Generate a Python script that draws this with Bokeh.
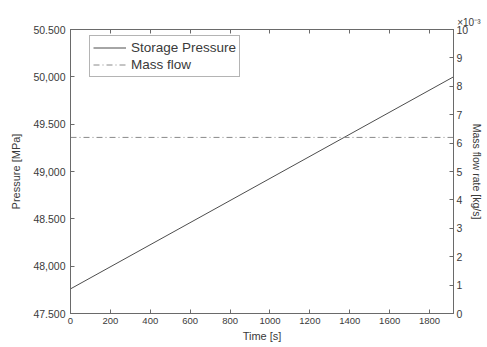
from bokeh.plotting import figure
from bokeh.models import (LinearAxis, Range1d, FixedTicker, Legend, LegendItem,
                          CustomJSTickFormatter, Title)
from bokeh.embed import file_html
from bokeh.resources import INLINE

# ---- data ----
time_s = [0, 1920]
pressure_mpa = [47.76, 50.0]
mass_flow = [0.0062, 0.0062]

x_ticks = [0, 200, 400, 600, 800, 1000, 1200, 1400, 1600, 1800]
y_ticks = [47.5, 48.0, 48.5, 49.0, 49.5, 50.0, 50.5]
y_tick_labels = ["47.500", "48,000", "48.500", "49,000", "49.500", "50,000", "50.500"]
flow_ticks = [0.000, 0.001, 0.002, 0.003, 0.004, 0.005, 0.006, 0.007, 0.008, 0.009, 0.010]

x_min, x_max = 0, 1920
p_min, p_max = 47.5, 50.5
f_min, f_max = 0.0, 0.010

FONT = "Liberation Sans"
AX = "#6a6a6a"
TXT = "#3a3a3a"

p = figure(width=487, height=347, output_backend="svg", toolbar_location=None,
           x_range=Range1d(x_min, x_max), y_range=Range1d(p_min, p_max),
           min_border_left=70, min_border_right=34, min_border_top=29, min_border_bottom=34,
           x_axis_label="Time [s]", y_axis_label="Pressure [MPa]")
p.extra_y_ranges = {"flow": Range1d(f_min, f_max)}
p.xgrid.visible = False
p.ygrid.visible = False
p.outline_line_color = AX
p.background_fill_color = "white"
p.border_fill_color = "white"

r1 = p.line(time_s, pressure_mpa, line_color="#4d4d4d", line_width=1)
r2 = p.line(time_s, mass_flow, y_range_name="flow", line_color="#8a8a8a",
            line_width=1, line_dash="6 3 1 3")


def style(ax, size):
    ax.axis_line_color = AX
    ax.major_tick_line_color = AX
    ax.major_tick_in = 4
    ax.major_tick_out = 0
    ax.minor_tick_line_color = None
    ax.major_label_text_font = FONT
    ax.major_label_text_font_size = size
    ax.major_label_text_color = TXT
    ax.axis_label_text_font = FONT
    ax.axis_label_text_font_size = "11px"
    ax.axis_label_text_font_style = "normal"
    ax.axis_label_text_color = TXT


xa = p.xaxis[0]
style(xa, "9.5px")
xa.ticker = FixedTicker(ticks=x_ticks)
xa.major_label_standoff = 4
xa.axis_label_standoff = 3

ya = p.yaxis[0]
style(ya, "10.5px")
ya.ticker = FixedTicker(ticks=y_ticks)
ya.major_label_overrides = {t: l for t, l in zip(y_ticks, y_tick_labels)}
ya.major_label_standoff = 5
ya.axis_label_standoff = 8

ra = LinearAxis(y_range_name="flow", axis_label="Mass flow rate [kg/s]",
                ticker=FixedTicker(ticks=flow_ticks),
                formatter=CustomJSTickFormatter(code="return (tick*1000).toFixed(0);"))
style(ra, "10.5px")
ra.axis_label_text_font_size = "10.5px"
ra.major_label_standoff = 3
ra.axis_label_standoff = 0
p.add_layout(ra, "right")

ta = LinearAxis(ticker=FixedTicker(ticks=x_ticks))
style(ta, "10px")
ta.major_label_overrides = {t: "" for t in x_ticks}
ta.major_label_standoff = 0
p.add_layout(ta, "above")

# exponent marker for the right axis
p.add_layout(Title(text="×10⁻³", align="right", offset=-27, text_font=FONT,
                   text_font_size="10px", text_font_style="normal", text_color=TXT,
                   standoff=4), "above")

legend = Legend(items=[LegendItem(label="Storage Pressure", renderers=[r1]),
                       LegendItem(label="Mass flow", renderers=[r2])],
                location=(19, 236))
legend.label_text_font = FONT
legend.label_text_font_size = "13.5px"
legend.label_text_color = TXT
legend.glyph_width = 33
legend.glyph_height = 17
legend.label_height = 17
legend.label_standoff = 5
legend.spacing = 0
legend.padding = 3
legend.margin = 0
legend.border_line_color = AX
legend.border_line_width = 1
legend.background_fill_color = "white"
p.add_layout(legend, "center")

open("out.html", "w").write(file_html(p, INLINE))
